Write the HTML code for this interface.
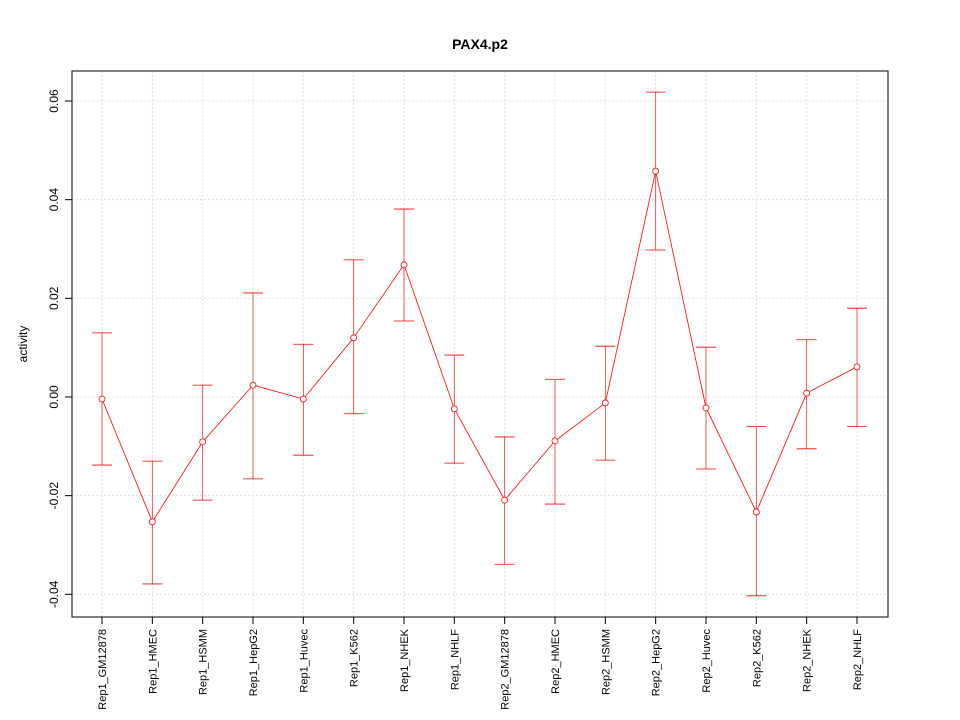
<!DOCTYPE html>
<html><head><meta charset="utf-8"><style>
html,body{margin:0;padding:0;background:#fff;}
svg{display:block;font-family:"Liberation Sans",sans-serif;}
</style></head><body>
<svg id="chart" width="960" height="720" xmlns="http://www.w3.org/2000/svg">
<rect width="960" height="720" fill="#fff"/>
<text x="480" y="49" text-anchor="middle" font-size="14" font-weight="bold">PAX4.p2</text>
<text transform="translate(27,344) rotate(-90)" text-anchor="middle" font-size="12">activity</text>
<g id="grid"></g>
<g id="axes"></g>
<g id="marks"></g>
<rect x="72" y="71" width="816" height="546" fill="none" stroke="#000"/>
</svg>
<script>
const categories=["Rep1_GM12878","Rep1_HMEC","Rep1_HSMM","Rep1_HepG2","Rep1_Huvec","Rep1_K562","Rep1_NHEK","Rep1_NHLF","Rep2_GM12878","Rep2_HMEC","Rep2_HSMM","Rep2_HepG2","Rep2_Huvec","Rep2_K562","Rep2_NHEK","Rep2_NHLF"];
const values=[-0.0004,-0.0253,-0.0091,0.0024,-0.0004,0.012,0.0268,-0.0024,-0.0209,-0.0089,-0.0012,0.0458,-0.0022,-0.0233,0.0008,0.0061];
const upper=[0.013,-0.013,0.0024,0.0211,0.0107,0.0278,0.0381,0.0085,-0.0081,0.0036,0.0103,0.0618,0.0101,-0.006,0.0116,0.018];
const lower=[-0.0138,-0.0379,-0.0209,-0.0166,-0.0118,-0.0034,0.0154,-0.0134,-0.0339,-0.0217,-0.0128,0.0298,-0.0146,-0.0403,-0.0105,-0.006];
const yTicks=[-0.04,-0.02,0,0.02,0.04,0.06];
const yTickLabels=["-0.04","-0.02","0.00","0.02","0.04","0.06"];
const NS="http://www.w3.org/2000/svg";
function xs(i){return 102+i*(857-102)/(categories.length-1);}
function ys(v){return 397-v*4933;}
function mk(parent,tag,attrs){const e=document.createElementNS(NS,tag);for(const k in attrs)e.setAttribute(k,attrs[k]);document.getElementById(parent).appendChild(e);return e;}
yTicks.forEach((t,i)=>{
  const g=mk("grid","line",{x1:72,x2:888,y1:ys(t),y2:ys(t),stroke:"#d8d8d8","stroke-width":"0.8","stroke-dasharray":"2,2"});
  
  
  const tk=mk("axes","line",{x1:65,x2:72,y1:ys(t),y2:ys(t),stroke:"#000"});
  
  
  const tx=mk("axes","text",{transform:`translate(58,${ys(t)}) rotate(-90)`,"text-anchor":"middle","font-size":"12"});
  tx.textContent=yTickLabels[i];
  
  
});
categories.forEach((c,i)=>{
  const x=xs(i);
  const g=mk("grid","line",{x1:x,x2:x,y1:71,y2:617,stroke:"#d8d8d8","stroke-width":"0.8","stroke-dasharray":"2,2"});
  
  
  const tk=mk("axes","line",{x1:x,x2:x,y1:617,y2:624,stroke:"#000"});
  
  
  const tx=mk("axes","text",{transform:`translate(${x+4},629) rotate(-90)`,"text-anchor":"end","font-size":"11"});
  tx.textContent=c;
  
  
});
categories.forEach((c,i)=>{
  const x=xs(i);
  const v=mk("marks","line",{x1:x,x2:x,y1:ys(upper[i]),y2:ys(lower[i]),stroke:"#e33","stroke-width":"0.8"});
  
  
  [upper[i],lower[i]].forEach(b=>{
    const cap=mk("marks","line",{x1:x-10,x2:x+10,y1:ys(b),y2:ys(b),stroke:"#f00","stroke-width":"0.8"});
    
    
  });
});
const line=mk("marks","polyline",{points:values.map((v,i)=>xs(i)+","+ys(v)).join(" "),fill:"none",stroke:"#f00","stroke-width":"0.8"});


values.forEach((v,i)=>{
  const p=mk("marks","circle",{cx:xs(i),cy:ys(v),r:3,fill:"#fff",stroke:"#f00","stroke-width":"0.8"});
  
  
});
</script>
</body></html>
